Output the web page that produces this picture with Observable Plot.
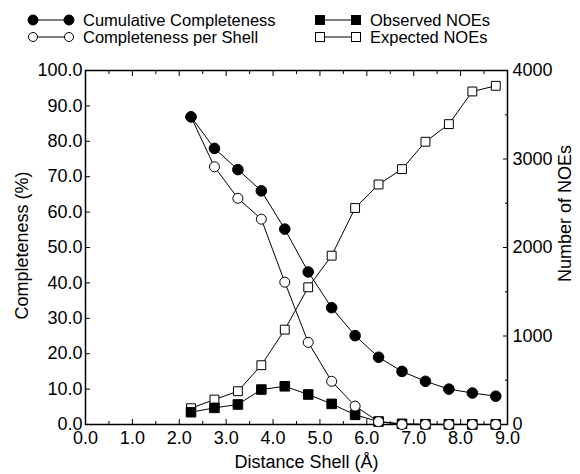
<!DOCTYPE html>
<html><head><meta charset="utf-8">
<script src="https://cdn.jsdelivr.net/npm/d3@7"></script>
<script src="https://cdn.jsdelivr.net/npm/@observablehq/plot@0.6"></script>
<style>
body{margin:0;background:#fff;font-family:"Liberation Sans",Arial,Helvetica,sans-serif;color:#000;}
#wrap{position:relative;width:580px;height:474px;overflow:hidden;}
#legend{position:relative;width:580px;height:48px;}
.item{position:absolute;height:16px;display:flex;align-items:center;font-size:16.5px;white-space:nowrap;line-height:16px;}
.item svg{display:block;margin-right:8px;}
#chart svg{display:block;}
</style></head><body>
<div id="wrap"><div id="legend"></div><div id="chart"></div></div>
<script>
// ---- data ----
const shells = [2.25, 2.75, 3.25, 3.75, 4.25, 4.75, 5.25, 5.75, 6.25, 6.75, 7.25, 7.75, 8.25, 8.75];
const cumulative = [86.9, 78.0, 72.0, 66.0, 55.2, 43.1, 33.0, 25.1, 19.0, 15.0, 12.2, 10.0, 8.9, 8.0];
const perShell = [86.9, 72.8, 63.9, 58.0, 40.2, 23.2, 12.2, 5.2, 0.8, 0, 0, 0, 0, 0];
const observedNOEs = [139, 188, 226, 395, 432, 339, 233, 109, 34, 8, 3, 2, 1, 1];
const expectedNOEs = [184, 282, 376, 670, 1072, 1550, 1908, 2446, 2712, 2886, 3195, 3394, 3763, 3827];
const seriesNames = ["Cumulative Completeness", "Completeness per Shell", "Observed NOEs", "Expected NOEs"];
const percentTicks = [0, 10, 20, 30, 40, 50, 60, 70, 80, 90, 100];
const distanceTicks = [0, 1, 2, 3, 4, 5, 6, 7, 8, 9];
const distanceMinorTicks = [0.5, 1.5, 2.5, 3.5, 4.5, 5.5, 6.5, 7.5, 8.5];
const noeTicks = [0, 1000, 2000, 3000, 4000];
const noeMinorTicks = [500, 1500, 2500, 3500];
const xTitle = "Distance Shell (Å)";
const yTitle = "Completeness (%)";
const y2Title = "Number of NOEs";
const percentMax = 100, noeMax = 4000;

// ---- legend ----
const legendItems = [
  {name: seriesNames[0], shape: "circle", fill: "black", left: 27, top: 12},
  {name: seriesNames[1], shape: "circle", fill: "white", left: 27, top: 29},
  {name: seriesNames[2], shape: "square", fill: "black", left: 314, top: 12},
  {name: seriesNames[3], shape: "square", fill: "white", left: 314, top: 29}
];
const legend = document.getElementById("legend");
for (const it of legendItems) {
  const div = document.createElement("div");
  div.className = "item";
  div.style.left = it.left + "px";
  div.style.top = it.top + "px";
  const ns = "http://www.w3.org/2000/svg";
  const svg = document.createElementNS(ns, "svg");
  svg.setAttribute("width", 48); svg.setAttribute("height", 16);
  const line = document.createElementNS(ns, "line");
  line.setAttribute("x1", 6); line.setAttribute("x2", 42); line.setAttribute("y1", 8); line.setAttribute("y2", 8);
  line.setAttribute("stroke", "black"); line.setAttribute("stroke-width", 1);
  svg.appendChild(line);
  for (const cx of [6, 42]) {
    let m;
    if (it.shape === "circle") {
      m = document.createElementNS(ns, "circle");
      m.setAttribute("cx", cx); m.setAttribute("cy", 8); m.setAttribute("r", it.fill === "black" ? 5 : 4.5);
    } else {
      m = document.createElementNS(ns, "rect");
      m.setAttribute("x", cx - 4.5); m.setAttribute("y", 3.5); m.setAttribute("width", 9); m.setAttribute("height", 9);
    }
    m.setAttribute("fill", it.fill); m.setAttribute("stroke", "black"); m.setAttribute("stroke-width", 1);
    svg.appendChild(m);
  }
  div.appendChild(svg);
  const span = document.createElement("span");
  span.textContent = it.name;
  div.appendChild(span);
  legend.appendChild(div);
}

// ---- chart ----
const k = noeMax / percentMax;
const rows = shells.map((s, i) => ({
  shell: s, cum: cumulative[i], per: perShell[i],
  obs: observedNOEs[i] / k, exp: expectedNOEs[i] / k
}));
const fmt1 = d3.format(".1f");
const font = "Liberation Sans, Arial, Helvetica, sans-serif";

const chart = Plot.plot({
  width: 580, height: 426,
  marginTop: 22, marginBottom: 50, marginLeft: 85, marginRight: 73,
  style: {fontFamily: font, fontSize: "18px", color: "black", background: "white", overflow: "visible"},
  x: {domain: [0, 9], label: null},
  y: {domain: [0, percentMax], label: null},
  marks: [
    Plot.axisX({ticks: distanceTicks, tickSize: -5, tickPadding: 12, tickFormat: fmt1, label: null, fontSize: 18}),
    Plot.axisX({ticks: distanceMinorTicks, tickSize: -3, tickFormat: () => "", label: null}),
    Plot.axisX({anchor: "top", ticks: distanceTicks, tickSize: -5, tickFormat: () => "", label: null}),
    Plot.axisX({anchor: "top", ticks: distanceMinorTicks, tickSize: -3, tickFormat: () => "", label: null}),
    Plot.axisY({ticks: percentTicks, tickSize: -5, tickPadding: 8, tickFormat: fmt1, label: null, fontSize: 18}),
    Plot.axisY({anchor: "right", ticks: noeTicks.map(v => v / k), tickSize: -5, tickPadding: 10,
      tickFormat: d => String(Math.round(d * k)), label: null, fontSize: 18}),
    Plot.axisY({anchor: "right", ticks: noeMinorTicks.map(v => v / k), tickSize: -3, tickFormat: () => "", label: null}),
    Plot.frame({stroke: "black", strokeWidth: 1.5}),
    // Expected NOEs
    Plot.line(rows, {x: "shell", y: "exp", stroke: "black", strokeWidth: 1}),
    Plot.dot(rows, {x: "shell", y: "exp", symbol: "square", r: 5, fill: "white", stroke: "black", strokeWidth: 1}),
    // Observed NOEs
    Plot.line(rows, {x: "shell", y: "obs", stroke: "black", strokeWidth: 1}),
    Plot.dot(rows, {x: "shell", y: "obs", symbol: "square", r: 5.4, fill: "black", stroke: "black", strokeWidth: 1}),
    // Completeness per shell
    Plot.line(rows, {x: "shell", y: "per", stroke: "black", strokeWidth: 1}),
    Plot.dot(rows, {x: "shell", y: "per", r: 5, fill: "white", stroke: "black", strokeWidth: 1}),
    // Cumulative completeness
    Plot.line(rows, {x: "shell", y: "cum", stroke: "black", strokeWidth: 1}),
    Plot.dot(rows, {x: "shell", y: "cum", r: 5.3, fill: "black", stroke: "black", strokeWidth: 1}),
    // axis titles
    Plot.text([xTitle], {frameAnchor: "bottom", textAnchor: "middle", dx: 10, dy: 43, fontSize: 18, fill: "black"}),
    Plot.text([yTitle], {frameAnchor: "left", textAnchor: "middle", rotate: -90, dx: -63, dy: -2, fontSize: 18, fill: "black"}),
    Plot.text([y2Title], {frameAnchor: "right", textAnchor: "middle", rotate: -90, dx: 58, dy: -34, fontSize: 18, fill: "black"})
  ]
});
document.getElementById("chart").appendChild(chart);
</script>
</body></html>
